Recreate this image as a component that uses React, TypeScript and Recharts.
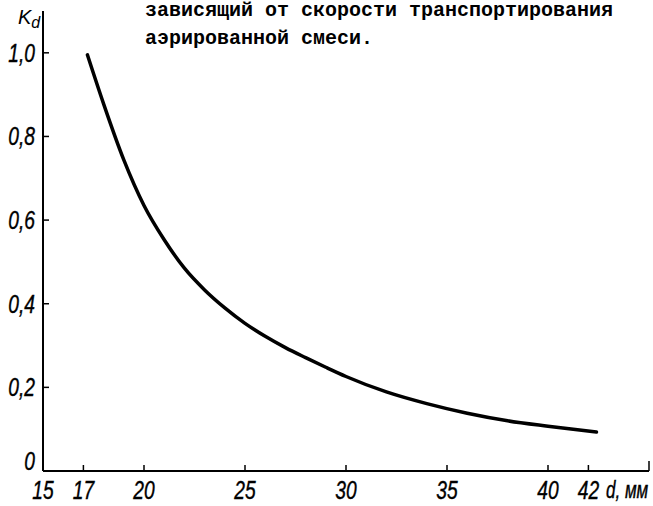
import { LineChart, Line, XAxis, YAxis } from 'recharts';

// d, mm (x) and K_d (y)
const dValues = [17.2, 18, 19, 20, 21, 22, 23, 24, 25, 26, 27, 28, 29, 30, 32, 34, 36, 38, 40, 42.4];
const kdValues = [0.995, 0.878, 0.744, 0.635, 0.553, 0.485, 0.433, 0.39, 0.353, 0.322, 0.295, 0.271, 0.248, 0.226, 0.189, 0.161, 0.138, 0.12, 0.107, 0.093];

const xTicks = [15, 17, 20, 25, 30, 35, 40, 42, 45];
const yTicks = [0, 0.2, 0.4, 0.6, 0.8, 1.0];

const titleLines = ['зависящий от скорости транспортирования', 'аэрированной смеси.'];

const data = dValues.map((d, i) => ({ d, kd: kdValues[i] }));

const numFont = "'Liberation Sans', 'DejaVu Sans', sans-serif";
const monoFont = "'Liberation Mono', 'DejaVu Sans Mono', monospace";
const squeeze = 0.74; // the scan uses a narrow italic face

const fmtY = (v: number) => (v === 0 ? '0' : v.toFixed(1).replace('.', ','));

function NarrowText({ x, y, anchor, size, children }: any) {
  return (
    <text
      transform={`translate(${x},${y}) scale(${squeeze},1)`}
      textAnchor={anchor}
      fontFamily={numFont}
      fontStyle="italic"
      fontSize={size}
      fill="#000"
      stroke="#000"
      strokeWidth={0.4}
    >
      {children}
    </text>
  );
}

function YTick(props: any) {
  const { x, y, payload } = props;
  const zero = payload.value === 0;
  return (
    <g>
      {!zero && <line x1={x + 8} y1={y} x2={x + 14} y2={y} stroke="#000" strokeWidth={1.5} />}
      <NarrowText x={x} y={zero ? y - 1 : y + 9} anchor="end" size={26}>
        {fmtY(payload.value)}
      </NarrowText>
    </g>
  );
}

function XTick(props: any) {
  const { x, y, payload } = props;
  const v = payload.value;
  const last = v === 45;
  return (
    <g>
      {v !== 15 && <line x1={x} y1={y} x2={x} y2={y - (last ? 10 : 6)} stroke="#000" strokeWidth={1.5} />}
      {!last && (
        <NarrowText x={x} y={y + 28} anchor="middle" size={26}>
          {v}
        </NarrowText>
      )}
    </g>
  );
}

export default function App() {
  return (
    <div style={{ position: 'relative', width: 653, height: 506, background: '#fff' }}>
      <style>{'body{margin:0}'}</style>
      <LineChart width={653} height={506} data={data} margin={{ top: 11, right: 4, bottom: 0, left: 0 }}>
        <XAxis
          dataKey="d"
          type="number"
          domain={[15, 45]}
          ticks={xTicks}
          interval={0}
          height={35}
          tickSize={0}
          tickMargin={0}
          tick={<XTick />}
          axisLine={{ stroke: '#000', strokeWidth: 2 }}
          tickLine={false}
        />
        <YAxis
          type="number"
          domain={[0, 1.1]}
          ticks={yTicks}
          interval={0}
          width={43}
          tickSize={0}
          tickMargin={8}
          tick={<YTick />}
          axisLine={{ stroke: '#000', strokeWidth: 2 }}
          tickLine={false}
        />
        <Line
          dataKey="kd"
          type="monotone"
          stroke="#000"
          strokeWidth={3.5}
          strokeLinecap="round"
          dot={false}
          isAnimationActive={false}
        />
      </LineChart>
      <svg width={653} height={506} style={{ position: 'absolute', left: 0, top: 0, pointerEvents: 'none' }}>
        <text fontFamily={monoFont} fontWeight="bold" fontSize={20} fill="#000">
          <tspan x={145} y={16}>{titleLines[0]}</tspan>
          <tspan x={145} y={44}>{titleLines[1]}</tspan>
        </text>
        <text x={18} y={24} fontFamily={numFont} fontStyle="italic" fontSize={20} fill="#000">
          K<tspan fontSize={16} dy={4}>d</tspan>
        </text>
        <NarrowText x={606} y={498} anchor="start" size={23}>
          d, мм
        </NarrowText>
      </svg>
    </div>
  );
}
